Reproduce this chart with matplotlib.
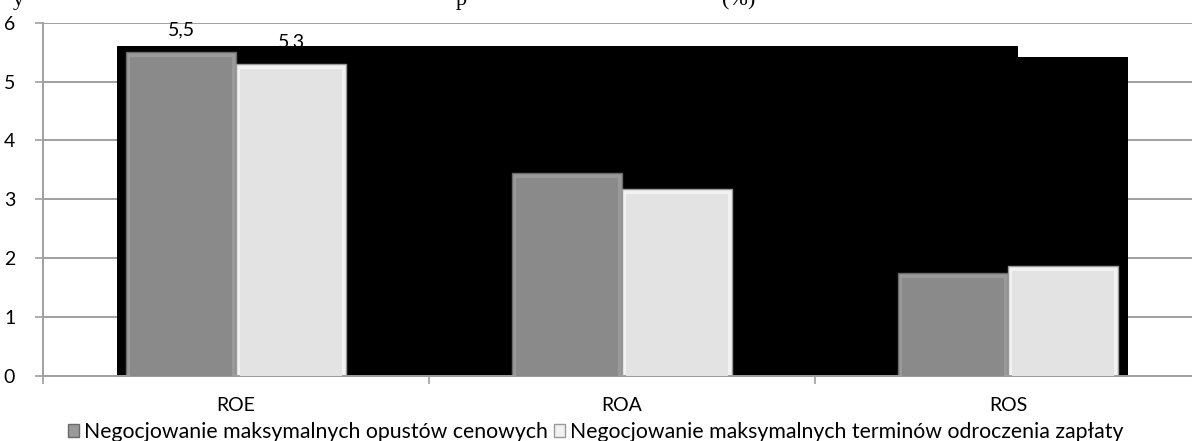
import numpy as np
import matplotlib
matplotlib.use('Agg')
import matplotlib.pyplot as plt
from matplotlib.patches import Rectangle

plt.rcParams['font.family'] = ['Lato', 'DejaVu Sans']

categories = ['ROE', 'ROA', 'ROS']
series_names = ['Negocjowanie maksymalnych opustów cenowych',
                'Negocjowanie maksymalnych terminów odroczenia zapłaty']
discounts = [5.5, 3.45, 1.75]
deferral = [5.3, 3.18, 1.87]
labelled = [True, False, False]
y_ticks = [0, 1, 2, 3, 4, 5, 6]

W, H = 1192, 441
fig = plt.figure(figsize=(W / 100, H / 100), dpi=100)
ax = fig.add_axes([43 / W, (H - 375.7) / H, 1158 / W, 353 / H])

grey = '#a0a0a0'
x = np.arange(len(categories))
width = 0.285

# black backdrop sitting behind the bars (pixels: left, right, top)
for left, right, top in [(117, 1018, 46), (1018, 1128, 57)]:
    ax.add_patch(Rectangle((left / W, (H - 377) / H), (right - left) / W,
                           (377 - top) / H, transform=fig.transFigure,
                           facecolor='black', edgecolor='none', zorder=1,
                           clip_on=False))


def bevel_bars(xpos, values, face, rim, edge):
    outer = ax.bar(xpos, values, width, color=rim, edgecolor=edge, linewidth=1.0, zorder=2)
    # inner face, inset to give the bevelled look
    inset_y = 0.09
    ax.bar(xpos, [v - inset_y for v in values], width * 0.92, color=face,
           edgecolor='none', zorder=3)
    return outer


b1 = bevel_bars(x - width / 2, discounts, '#8a8a8a', '#9a9a9a', '#6a6a6a')
b2 = bevel_bars(x + width / 2, deferral, '#e3e3e3', '#f2f2f2', '#9a9a9a')

for bars, vals in [(b1, discounts), (b2, deferral)]:
    for bar, v, show in zip(bars, vals, labelled):
        if show:
            ax.annotate(f'{v:.1f}'.replace('.', ','),
                        (bar.get_x() + bar.get_width() / 2, v),
                        xytext=(0, 16), textcoords='offset points',
                        ha='center', va='center', fontsize=14, zorder=5)

ax.set_xlim(-0.5, len(categories) - 0.5)
ax.set_ylim(0, 6)
ax.set_yticks(y_ticks)
ax.set_yticklabels([str(t) for t in y_ticks], fontsize=14)
ax.set_xticks(np.arange(len(categories) + 1) - 0.5)
ax.set_xticklabels([])
ax.set_xticks(x, minor=True)
ax.set_xticklabels(categories, minor=True, fontsize=14)
ax.tick_params(axis='x', which='minor', length=0, pad=15)
ax.tick_params(axis='x', which='major', length=6, color=grey, width=1.2)
ax.tick_params(axis='y', length=6, color=grey, width=1.2, pad=14)

ax.set_axisbelow(True)
ax.grid(axis='y', color=grey, linewidth=1.4)
for side in ['top', 'right']:
    ax.spines[side].set_visible(False)
for side in ['left', 'bottom']:
    ax.spines[side].set_color(grey)
    ax.spines[side].set_linewidth(1.4)

fig.legend([b1[0], b2[0]], series_names, loc='center', ncol=2,
           bbox_to_anchor=(0.5, (H - 432) / H), frameon=False, fontsize=15.3,
           handlelength=0.5, handleheight=0.5, handletextpad=0.25,
           columnspacing=0.3)

# heading clipped by the top edge
for txt, px in [('y', 13), ('p', 456), ('(%)', 722)]:
    fig.text(px / W, (H - 5) / H, txt, fontsize=16, va='baseline',
             family='Liberation Serif')

fig.savefig('out.png', dpi=100)
